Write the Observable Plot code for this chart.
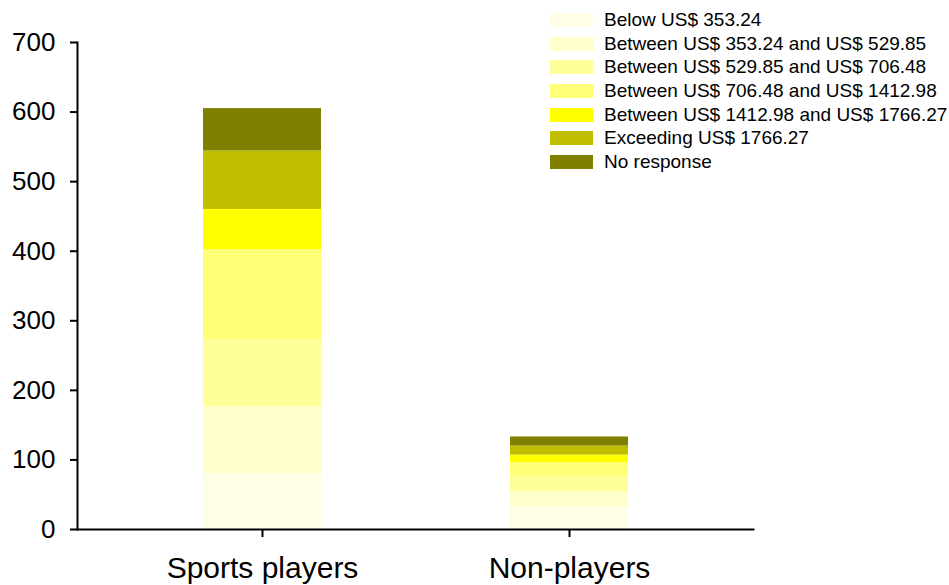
<!DOCTYPE html>
<html>
<head>
<meta charset="utf-8">
<script src="https://cdn.jsdelivr.net/npm/d3@7"></script>
<script src="https://cdn.jsdelivr.net/npm/@observablehq/plot@0.6"></script>
<style>
  html, body { margin: 0; padding: 0; background: #fff; }
  #wrap { position: relative; width: 949px; height: 585px; font-family: "Liberation Sans", Arial, sans-serif; }
  #legend { position: absolute; left: 550px; top: 8px; }
  .row { display: flex; align-items: center; height: 23.7px; }
  .sw { width: 43px; height: 14px; margin-right: 11px; }
  .lab { font-size: 19px; color: #000; white-space: nowrap; }
</style>
</head>
<body>
<div id="wrap"><div id="legend"></div></div>
<script>
const categories = ["Sports players", "Non-players"];
const incomeBands = [
  "Below US$ 353.24",
  "Between US$ 353.24 and US$ 529.85",
  "Between US$ 529.85 and US$ 706.48",
  "Between US$ 706.48 and US$ 1412.98",
  "Between US$ 1412.98 and US$ 1766.27",
  "Exceeding US$ 1766.27",
  "No response"
];
const bandColors = ["#fffde6", "#ffffcc", "#ffff99", "#ffff78", "#ffff00", "#bfbf00", "#808000"];
const sportsPlayers = [80, 96, 96, 130, 58, 84, 61];
const nonPlayers = [32, 22, 22, 20, 11, 13, 13];
const yTicks = [0, 100, 200, 300, 400, 500, 600, 700];

const series = [sportsPlayers, nonPlayers];
const data = categories.flatMap((c, i) => incomeBands.map((b, j) => ({group: c, band: b, value: series[i][j]})));

const chart = Plot.plot({
  width: 949,
  height: 585,
  marginLeft: 77,
  marginRight: 196,
  marginTop: 42,
  marginBottom: 56,
  style: {fontFamily: "'Liberation Sans', Arial, sans-serif", color: "#000", background: "#fff"},
  x: {domain: categories, range: [203, 628], paddingInner: 0.616, paddingOuter: 0, align: 0.5, label: null},
  y: {domain: [0, 700], label: null},
  color: {domain: incomeBands, range: bandColors},
  marks: [
    Plot.barY(data, {x: "group", y: "value", fill: "band"}),
    Plot.frame({anchor: "left", stroke: "#000", strokeWidth: 2}),
    Plot.frame({anchor: "bottom", stroke: "#000", strokeWidth: 2}),
    Plot.axisY({ticks: yTicks, tickSize: 7, tickPadding: 15, fontSize: 26, label: null, strokeWidth: 2}),
    Plot.axisX({tickSize: 8, tickPadding: 19, fontSize: 30, label: null, strokeWidth: 2})
  ]
});
document.getElementById("wrap").prepend(chart);

const legend = document.getElementById("legend");
incomeBands.forEach((b, i) => {
  const row = document.createElement("div");
  row.className = "row";
  const sw = document.createElement("div");
  sw.className = "sw";
  sw.style.background = bandColors[i];
  const lab = document.createElement("div");
  lab.className = "lab";
  lab.textContent = b;
  row.append(sw, lab);
  legend.append(row);
});
</script>
</body>
</html>
